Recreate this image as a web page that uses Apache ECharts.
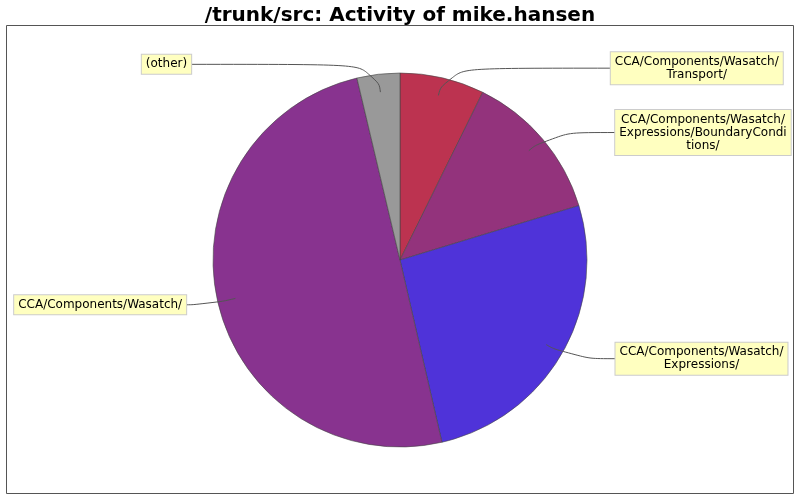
<!DOCTYPE html>
<html>
<head>
<meta charset="utf-8">
<script src="https://cdn.jsdelivr.net/npm/echarts@6/dist/echarts.min.js"></script>
<style>html,body{margin:0;padding:0;background:#fff}#c{width:800px;height:500px}</style>
</head>
<body>
<div id="c"></div>
<script>
var categories = [
  'CCA/Components/Wasatch/Transport/',
  'CCA/Components/Wasatch/Expressions/BoundaryConditions/',
  'CCA/Components/Wasatch/Expressions/',
  'CCA/Components/Wasatch/',
  '(other)'
];
var labelLinesText = [
  ['CCA/Components/Wasatch/', 'Transport/'],
  ['CCA/Components/Wasatch/', 'Expressions/BoundaryCondi', 'tions/'],
  ['CCA/Components/Wasatch/', 'Expressions/'],
  ['CCA/Components/Wasatch/'],
  ['(other)']
];
var values = [7.3, 13.0, 26.1, 49.9, 3.7];
var colors = ['#bc3350', '#93337c', '#4f33d9', '#88338f', '#999999'];
var lineLen2 = [166, 65, 45, 22, 186];

var chart = echarts.init(document.getElementById('c'));
var mainData = categories.map(function (n, i) {
  return { name: n, value: values[i], itemStyle: { color: colors[i] } };
});
var labelData = categories.map(function (n, i) {
  return { name: n, value: values[i], labelLine: { length: 28, length2: lineLen2[i] } };
});
chart.setOption({
  animation: false,
  title: {
    text: '/trunk/src: Activity of mike.hansen',
    left: 'center', top: 1,
    textStyle: { fontFamily: 'DejaVu Sans', fontWeight: 'bold', fontSize: 20, color: '#000' }
  },
  graphic: [{
    type: 'rect', silent: true,
    shape: { x: 6.5, y: 25.5, width: 787, height: 468 },
    style: { fill: 'none', stroke: '#555', lineWidth: 1 }
  }],
  series: [{
    type: 'pie',
    center: [400, 260],
    radius: 187,
    startAngle: 90,
    clockwise: true,
    silent: true,
    label: { show: false },
    labelLine: { show: false },
    itemStyle: { borderColor: '#444', borderWidth: 0.6 },
    data: mainData
  }, {
    type: 'pie',
    center: [400, 260],
    radius: 169,
    startAngle: 90,
    clockwise: true,
    silent: true,
    z: 5,
    avoidLabelOverlap: false,
    itemStyle: { color: 'rgba(0,0,0,0)', borderWidth: 0 },
    label: {
      show: true,
      position: 'outside',
      alignTo: 'none',
      distanceToLabelLine: 0,
      backgroundColor: '#ffffc0',
      borderColor: '#cccccc',
      borderWidth: 1,
      padding: [3, 4, 3, 4],
      formatter: function (p) {
        return labelLinesText[p.dataIndex].map(function (t) { return '{a|' + t + '}'; }).join('\n');
      },
      rich: {
        a: { fontFamily: 'DejaVu Sans', fontSize: 12, lineHeight: 13, color: '#000', align: 'center' }
      }
    },
    labelLine: {
      show: true,
      smooth: 0.7,
      lineStyle: { color: '#555', width: 1 }
    },
    data: labelData
  }]
});
</script>
</body>
</html>
